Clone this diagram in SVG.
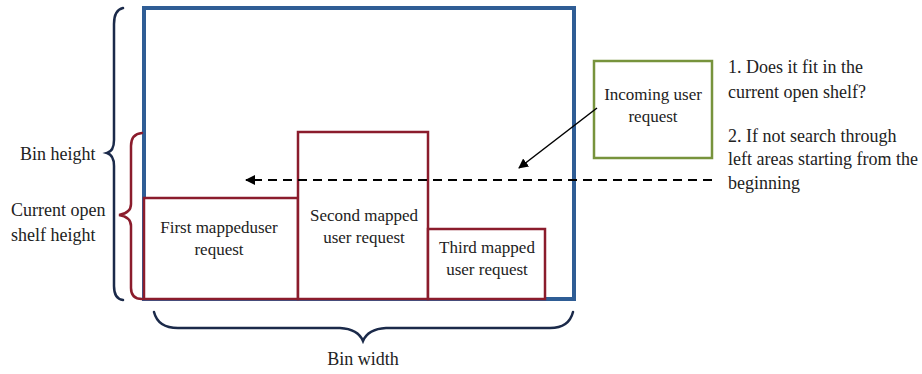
<svg xmlns="http://www.w3.org/2000/svg" width="922" height="374" viewBox="0 0 922 374">
  <defs>
    <marker id="arrow" viewBox="0 0 10 10" refX="9" refY="5" markerWidth="10" markerHeight="10" markerUnits="userSpaceOnUse" orient="auto">
      <path d="M0,0 L10,5 L0,10 Z" fill="#000"/>
    </marker>
  </defs>
  <style>
    text { font-family: "Liberation Serif", "Times New Roman", serif; fill: #222; }
    .note { font-size: 18px; }
    .box { font-size: 17px; text-anchor: middle; }
    .req { fill: #fff; stroke: #8b1c2c; stroke-width: 2.5; }
    .brace { fill: none; stroke-width: 2.5; stroke-linecap: round; }
  </style>
  <rect width="922" height="374" fill="#fff"/>

  <!-- bin outline -->
  <g id="bin">
    <rect x="144" y="8" width="430" height="291" fill="#fff" stroke="#2f5d95" stroke-width="4"/>
  </g>

  <!-- mapped requests on the shelf -->
  <g id="first">
    <rect class="req" x="144" y="198" width="154" height="101"/>
    <text class="box" x="219" y="233">First mappeduser</text>
    <text class="box" x="219" y="255">request</text>
  </g>
  <g id="second">
    <rect class="req" x="298" y="132" width="130" height="167"/>
    <text class="box" x="364" y="221">Second mapped</text>
    <text class="box" x="364" y="243">user request</text>
  </g>
  <g id="third">
    <rect class="req" x="428" y="229" width="117" height="70"/>
    <text class="box" x="487" y="253">Third mapped</text>
    <text class="box" x="487" y="275">user request</text>
  </g>

  <!-- incoming request -->
  <g id="incoming">
    <rect x="594" y="61" width="118" height="97" fill="#fff" stroke="#77933c" stroke-width="2.5"/>
    <text class="box" x="653" y="100">Incoming user</text>
    <text class="box" x="653" y="122">request</text>
  </g>

  <!-- connectors -->
  <g id="connectors" fill="none" stroke="#000">
    <line x1="712" y1="180" x2="246" y2="180" stroke-width="2" stroke-dasharray="9,6" marker-end="url(#arrow)"/>
    <line x1="597" y1="108" x2="519" y2="168" stroke-width="1.5" marker-end="url(#arrow)"/>
  </g>

  <!-- dimension braces -->
  <g id="bin-height">
    <path class="brace" stroke="#1b2a4a" d="M123,8 Q114,10 114,24 L114,140 Q114,151 107,153 Q114,155 114,166 L114,286 Q114,299 123,300"/>
    <text class="note" x="20" y="160">Bin height</text>
  </g>
  <g id="shelf-height">
    <path class="brace" stroke="#8b1c2c" d="M142,133 Q131,134 131,146 L131,204 Q131,213 119,215 Q131,217 131,226 L131,288 Q131,299 142,299"/>
    <text class="note" x="11" y="216">Current open</text>
    <text class="note" x="11" y="241">shelf height</text>
  </g>
  <g id="bin-width">
    <path class="brace" stroke="#1b2a4a" d="M154,312 Q158,328 178,328 L340,328 Q358,329 363,341 Q368,329 386,328 L550,328 Q569,328 573,312"/>
    <text class="note" x="363" y="365" text-anchor="middle">Bin width</text>
  </g>

  <!-- notes -->
  <g id="notes">
    <text class="note" x="728" y="73">1. Does it fit in the</text>
    <text class="note" x="728" y="98">current open shelf?</text>
    <text class="note" x="728" y="142">2. If not search through</text>
    <text class="note" x="728" y="165">left areas starting from the</text>
    <text class="note" x="728" y="189">beginning</text>
  </g>
</svg>
